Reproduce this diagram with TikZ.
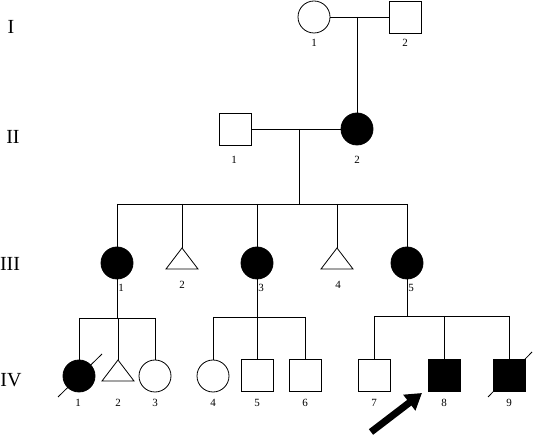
\documentclass[tikz,border=0pt]{standalone}
\usepackage{fontspec}
\setmainfont{Liberation Serif}
\usetikzlibrary{arrows.meta}
\begin{document}
\begin{tikzpicture}[x=1pt,y=-1pt,
  ln/.style={line width=0.8pt},
  fem/.style={circle,draw,line width=0.8pt,minimum size=32pt,inner sep=0pt},
  mal/.style={rectangle,draw,line width=0.8pt,minimum size=32pt,inner sep=0pt},
  aff/.style={fill=black},
  tri/.style={draw,line width=0.8pt,line join=miter},
  num/.style={font=\fontsize{11}{13}\selectfont,inner sep=0pt},
  gen/.style={font=\fontsize{20}{24}\selectfont,inner sep=0pt},
]
\useasboundingbox (0,0) rectangle (533,435);
% generation labels
\node[gen] (gI) at (11,27) {I};
\node[gen] (gII) at (13,137) {II};
\node[gen] (gIII) at (10,264) {III};
\node[gen] (gIV) at (11,380) {IV};
% Generation I
\node[fem] (I1) at (314,17) {};
\node[mal] (I2) at (405,17) {};
\node[num] at (314,43) {1};
\node[num] at (405,43) {2};
\coordinate (mI) at (357,17);
% Generation II
\node[mal] (II1) at (235,129) {};
\node[fem,aff] (II2) at (357,129) {};
\node[num] at (234,160) {1};
\node[num] at (357,160) {2};
\coordinate (mII) at (299,129);
\coordinate (sIII) at (299,204);
\coordinate (sIIIl) at (117,204);
\coordinate (sIIIr) at (407,204);
% Generation III
\node[fem,aff] (III1) at (117,263) {};
\coordinate (III2) at (182,248);
\node[fem,aff] (III3) at (257,263) {};
\coordinate (III4) at (337,248);
\node[fem,aff] (III5) at (407,263) {};
\draw[tri] (III2) -- ++(16,21) -- ++(-32,0) -- cycle;
\draw[tri] (III4) -- ++(16,21) -- ++(-32,0) -- cycle;
\node[num] at (121,288) {1};
\node[num] at (182,285) {2};
\node[num] at (261,288) {3};
\node[num] at (338,285) {4};
\node[num] at (411,288) {5};
% Generation IV
\node[fem,aff] (IV1) at (79,376) {};
\coordinate (IV2) at (118,360);
\node[fem] (IV3) at (155,376) {};
\node[fem] (IV4) at (213,376) {};
\node[mal] (IV5) at (257,375) {};
\node[mal] (IV6) at (305,375) {};
\node[mal] (IV7) at (374,375) {};
\node[mal,aff] (IV8) at (444,375) {};
\node[mal,aff] (IV9) at (509,375) {};
\draw[tri] (IV2) -- ++(16,21) -- ++(-32,0) -- cycle;
\foreach \n/\x in {1/78,2/118,3/155,4/213,5/257,6/305,7/374,8/444,9/509}
  \node[num] at (\x,403) {\n};
% deceased slashes
\coordinate (d1a) at (58,397); \coordinate (d1b) at (102,354);
\coordinate (d9a) at (488,397); \coordinate (d9b) at (532,352);
\draw[ln] (d1a) -- (d1b);
\draw[ln] (d9a) -- (d9b);
% sibship coordinates IV
\coordinate (sA) at (117,318); \coordinate (sAl) at (79,318); \coordinate (sAr) at (155,318);
\coordinate (sB) at (257,317); \coordinate (sBl) at (213,317); \coordinate (sBr) at (305,317);
\coordinate (sC) at (407,316); \coordinate (sCl) at (374,316); \coordinate (sCr) at (509,316);
% connectors
\draw[ln] (I1) -- (I2);
\draw[ln] (mI) -- (II2);
\draw[ln] (II1) -- (II2);
\draw[ln] (mII) -- (sIII);
\draw[ln] (sIIIl) -- (sIIIr);
\draw[ln] (sIIIl) -- (III1);
\draw[ln] (182,204) -- (III2);
\draw[ln] (257,204) -- (III3);
\draw[ln] (337,204) -- (III4);
\draw[ln] (sIIIr) -- (III5);
\draw[ln] (III1) -- (sA);
\draw[ln] (sAl) -- (sAr);
\draw[ln] (sAl) -- (IV1);
\draw[ln] (118,318) -- (IV2);
\draw[ln] (sAr) -- (IV3);
\draw[ln] (III3) -- (sB);
\draw[ln] (sBl) -- (sBr);
\draw[ln] (sBl) -- (IV4);
\draw[ln] (sB) -- (IV5);
\draw[ln] (sBr) -- (IV6);
\draw[ln] (III5) -- (sC);
\draw[ln] (sCl) -- (sCr);
\draw[ln] (sCl) -- (IV7);
\draw[ln] (444,316) -- (IV8);
\draw[ln] (sCr) -- (IV9);
% proband arrow
\coordinate (arT) at (371,432);
\coordinate (arH) at (422,393);
\draw[line width=7pt,-{Triangle[length=16pt,width=19pt]}] (arT) -- (arH);
\end{tikzpicture}
\end{document}
